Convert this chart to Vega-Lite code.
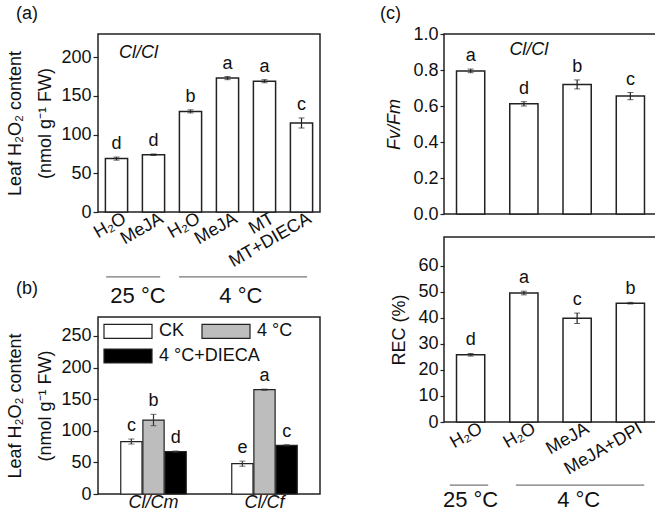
{
  "$schema": "https://vega.github.io/schema/vega-lite/v6.json",
  "padding": {"left": 6, "top": 4, "right": 2, "bottom": 0},
  "background": "white",
  "config": {
    "font": "Liberation Sans",
    "view": {"stroke": "#222", "strokeWidth": 1.5},
    "axis": {"labelFontSize": 18, "titleFontSize": 18, "labelColor": "#111", "titleColor": "#111", "titleFontWeight": "normal", "grid": false, "domain": false, "tickColor": "#222", "tickWidth": 1.2, "labelOverlap": false, "labelFlush": false},
    "title": {"fontSize": 18, "fontWeight": "normal", "anchor": "start", "frame": "group", "color": "#111"},
    "text": {"fontSize": 18, "color": "#111"}
  },
  "spacing": 58,
  "resolve": {"legend": {"fill": "independent", "color": "independent"}},
  "hconcat": [
    {
      "spacing": 8,
      "bounds": "flush",
      "resolve": {"legend": {"fill": "independent", "color": "independent"}},
      "vconcat": [
        {
          "title": {"text": "(a)", "dx": -82, "offset": 11},
          "width": 222,
          "height": 178,
          "data": {"values": [
            {"cat": "H₂O|25", "value": 69, "lo": 67, "hi": 71, "letter": "d"},
            {"cat": "MeJA|25", "value": 74, "lo": 73, "hi": 75, "letter": "d"},
            {"cat": "H₂O|4", "value": 130, "lo": 128, "hi": 132, "letter": "b"},
            {"cat": "MeJA|4", "value": 173, "lo": 171, "hi": 175, "letter": "a"},
            {"cat": "MT|4", "value": 169, "lo": 167, "hi": 171, "letter": "a"},
            {"cat": "MT+DIECA|4", "value": 115, "lo": 108.5, "hi": 121.5, "letter": "c"}
          ]},
          "encoding": {
            "x": {"field": "cat", "type": "nominal", "sort": null, "scale": {"paddingInner": 0.4, "paddingOuter": 0.2},
              "axis": {"title": null, "labelExpr": "split(datum.value,'|')[0]", "labelAngle": -30, "labelAlign": "right", "labelBaseline": "top", "tickSize": -5, "labelPadding": 2, "labelOffset": 4, "labelOverlap": false}}
          },
          "layer": [
            {"mark": {"type": "bar", "fill": "white", "stroke": "#222", "strokeWidth": 1.5},
             "encoding": {"y": {"field": "value", "type": "quantitative", "title": ["Leaf H₂O₂ content", "(nmol g⁻¹ FW)"], "scale": {"domain": [0, 230], "nice": false},
               "axis": {"values": [0, 50, 100, 150, 200], "tickCount": 20, "titlePadding": 6, "titleLineHeight": 30, "labelOverlap": false}}}},
            {"mark": {"type": "errorbar", "ticks": {"size": 6, "color": "#222"}, "rule": {"strokeWidth": 1.2}, "color": "#222"},
             "encoding": {"y": {"field": "lo", "type": "quantitative", "title": ["Leaf H₂O₂ content", "(nmol g⁻¹ FW)"]}, "y2": {"field": "hi"}}},
            {"mark": {"type": "text", "dy": -4, "baseline": "bottom"},
             "encoding": {"y": {"field": "hi", "type": "quantitative", "title": ["Leaf H₂O₂ content", "(nmol g⁻¹ FW)"]}, "text": {"field": "letter"}}},
            {"data": {"values": [{"label": "Cl/Cl"}]},
             "mark": {"type": "text", "fontStyle": "italic", "align": "center", "baseline": "middle", "dx": 22},
             "encoding": {"x": {"datum": "H₂O|25"}, "y": {"datum": 205}, "text": {"field": "label"}}}
          ]
        },
        {
          "width": 222,
          "height": 89,
          "view": {"stroke": null},
          "data": {"values": [
            {"group": "25 °C", "start": 0.22, "end": 1.68, "mid": 1.08},
            {"group": "4 °C", "start": 2.19, "end": 5.65, "mid": 3.86}
          ]},
          "layer": [
            {"mark": {"type": "rule", "color": "#777", "strokeWidth": 1.2},
             "encoding": {"x": {"field": "start", "type": "quantitative", "scale": {"domain": [0, 6], "nice": false, "zero": false}, "axis": null},
               "x2": {"field": "end"},
               "y": {"datum": 0.36, "type": "quantitative", "scale": {"domain": [0, 1], "nice": false}, "axis": null}}},
            {"mark": {"type": "text", "fontSize": 22, "baseline": "alphabetic"},
             "encoding": {"x": {"field": "mid", "type": "quantitative"}, "y": {"datum": 0.067, "type": "quantitative"}, "text": {"field": "group"}}}
          ]
        },
        {
          "title": {"text": "(b)", "dx": -82, "offset": 8},
          "width": 222,
          "height": 177,
          "data": {"values": [
            {"genotype": "Cl/Cm", "treat": "CK", "value": 83, "lo": 79, "hi": 87, "letter": "c"},
            {"genotype": "Cl/Cm", "treat": "4 °C", "value": 117, "lo": 108, "hi": 126, "letter": "b"},
            {"genotype": "Cl/Cm", "treat": "4 °C+DIECA", "value": 67, "lo": 66, "hi": 68, "letter": "d"},
            {"genotype": "Cl/Cf", "treat": "CK", "value": 48, "lo": 44, "hi": 52, "letter": "e"},
            {"genotype": "Cl/Cf", "treat": "4 °C", "value": 165, "lo": 164, "hi": 166, "letter": "a"},
            {"genotype": "Cl/Cf", "treat": "4 °C+DIECA", "value": 77, "lo": 76, "hi": 78, "letter": "c"}
          ]},
          "encoding": {
            "x": {"field": "genotype", "type": "nominal", "sort": ["Cl/Cm", "Cl/Cf"], "scale": {"paddingInner": 0.41, "paddingOuter": 0.205},
              "axis": {"title": null, "labelAngle": 0, "labelFontStyle": "italic", "tickSize": -5, "labelPadding": 4}},
            "xOffset": {"field": "treat", "type": "nominal", "scale": {"domain": ["CK", "4 °C", "4 °C+DIECA"], "paddingInner": 0.04}}
          },
          "layer": [
            {"transform": [{"filter": "datum.treat !== '4 °C+DIECA'"}],
             "mark": {"type": "bar", "stroke": "#222", "strokeWidth": 1.2},
             "encoding": {
               "y": {"field": "value", "type": "quantitative", "title": ["Leaf H₂O₂ content", "(nmol g⁻¹ FW)"], "scale": {"domain": [0, 280], "nice": false},
                 "axis": {"values": [0, 50, 100, 150, 200, 250], "tickCount": 20, "titlePadding": 6, "titleLineHeight": 30, "labelOverlap": false}},
               "fill": {"field": "treat", "type": "nominal",
                 "scale": {"domain": ["CK", "4 °C"], "range": ["white", "#bdbdbd"]},
                 "legend": {"title": null, "orient": "none", "legendX": 5, "legendY": -11, "direction": "horizontal", "columnPadding": 14,
                   "symbolType": "M-1,-0.29H1V0.29H-1Z", "symbolSize": 2304, "symbolStrokeColor": "#222", "symbolStrokeWidth": 1.2,
                   "labelFontSize": 18, "labelOffset": 6, "padding": 0, "labelColor": "#111"}}
             }},
            {"transform": [{"filter": "datum.treat === '4 °C+DIECA'"}],
             "mark": {"type": "bar", "stroke": "#222", "strokeWidth": 1.2},
             "encoding": {
               "y": {"field": "value", "type": "quantitative", "title": ["Leaf H₂O₂ content", "(nmol g⁻¹ FW)"]},
               "color": {"field": "treat", "type": "nominal",
                 "scale": {"domain": ["4 °C+DIECA"], "range": ["black"]},
                 "legend": {"title": null, "orient": "none", "legendX": 5, "legendY": 14, "direction": "horizontal",
                   "symbolType": "M-1,-0.29H1V0.29H-1Z", "symbolSize": 2304, "symbolStrokeColor": "#222", "symbolStrokeWidth": 1.2, "symbolFillColor": "black",
                   "labelFontSize": 18, "labelOffset": 6, "padding": 0, "labelColor": "#111"}}
             }},
            {"mark": {"type": "errorbar", "ticks": {"size": 6, "color": "#333"}, "rule": {"strokeWidth": 1.2}, "color": "#333"},
             "encoding": {"y": {"field": "lo", "type": "quantitative", "title": ["Leaf H₂O₂ content", "(nmol g⁻¹ FW)"]}, "y2": {"field": "hi"}}},
            {"mark": {"type": "text", "dy": -4, "baseline": "bottom"},
             "encoding": {"y": {"field": "hi", "type": "quantitative", "title": ["Leaf H₂O₂ content", "(nmol g⁻¹ FW)"]}, "text": {"field": "letter"}}}
          ]
        }
      ]
    },
    {
      "spacing": 23,
      "bounds": "flush",
      "vconcat": [
        {
          "title": {"text": "(c)", "dx": -64, "offset": 2},
          "width": 213,
          "height": 180,
          "data": {"values": [
            {"cat": "H₂O|25", "value": 0.795, "lo": 0.785, "hi": 0.805, "letter": "a"},
            {"cat": "H₂O|4", "value": 0.612, "lo": 0.6, "hi": 0.624, "letter": "d"},
            {"cat": "MeJA|4", "value": 0.72, "lo": 0.695, "hi": 0.745, "letter": "b"},
            {"cat": "MeJA+DPI|4", "value": 0.655, "lo": 0.635, "hi": 0.675, "letter": "c"}
          ]},
          "encoding": {
            "x": {"field": "cat", "type": "nominal", "sort": null, "scale": {"paddingInner": 0.47, "paddingOuter": 0.235},
              "axis": {"title": null, "labels": false, "tickSize": -5}}
          },
          "layer": [
            {"mark": {"type": "bar", "fill": "white", "stroke": "#222", "strokeWidth": 1.5},
             "encoding": {"y": {"field": "value", "type": "quantitative", "title": "Fv/Fm", "scale": {"domain": [0, 1], "nice": false},
               "axis": {"values": [0, 0.2, 0.4, 0.6, 0.8, 1], "tickCount": 20, "format": ".1f", "titleFontStyle": "italic", "tickSize": 4, "labelPadding": 2, "titlePadding": 9, "labelOverlap": false}}}},
            {"mark": {"type": "errorbar", "ticks": {"size": 6, "color": "#222"}, "rule": {"strokeWidth": 1.2}, "color": "#222"},
             "encoding": {"y": {"field": "lo", "type": "quantitative", "title": "Fv/Fm"}, "y2": {"field": "hi"}}},
            {"mark": {"type": "text", "dy": -4, "baseline": "bottom"},
             "encoding": {"y": {"field": "hi", "type": "quantitative", "title": "Fv/Fm"}, "text": {"field": "letter"}}},
            {"data": {"values": [{"label": "Cl/Cl"}]},
             "mark": {"type": "text", "fontStyle": "italic", "align": "center", "baseline": "middle", "dx": 5},
             "encoding": {"x": {"datum": "H₂O|4"}, "y": {"datum": 0.91}, "text": {"field": "label"}}}
          ]
        },
        {
          "width": 213,
          "height": 185,
          "data": {"values": [
            {"cat": "H₂O|25", "value": 25.8, "lo": 25.3, "hi": 26.3, "letter": "d"},
            {"cat": "H₂O|4", "value": 49.5, "lo": 48.8, "hi": 50.2, "letter": "a"},
            {"cat": "MeJA|4", "value": 39.8, "lo": 37.8, "hi": 41.8, "letter": "c"},
            {"cat": "MeJA+DPI|4", "value": 45.6, "lo": 45.3, "hi": 45.9, "letter": "b"}
          ]},
          "encoding": {
            "x": {"field": "cat", "type": "nominal", "sort": null, "scale": {"paddingInner": 0.47, "paddingOuter": 0.235},
              "axis": {"title": null, "labelExpr": "split(datum.value,'|')[0]", "labelAngle": -30, "labelAlign": "right", "labelBaseline": "top", "tickSize": -5, "labelPadding": 2, "labelOffset": 6, "labelOverlap": false}}
          },
          "layer": [
            {"mark": {"type": "bar", "fill": "white", "stroke": "#222", "strokeWidth": 1.5},
             "encoding": {"y": {"field": "value", "type": "quantitative", "title": "REC (%)", "scale": {"domain": [0, 71], "nice": false},
               "axis": {"values": [0, 10, 20, 30, 40, 50, 60], "tickCount": 20, "tickSize": 4, "labelPadding": 2, "titlePadding": 9, "labelOverlap": false}}}},
            {"mark": {"type": "errorbar", "ticks": {"size": 6, "color": "#222"}, "rule": {"strokeWidth": 1.2}, "color": "#222"},
             "encoding": {"y": {"field": "lo", "type": "quantitative", "title": "REC (%)"}, "y2": {"field": "hi"}}},
            {"mark": {"type": "text", "dy": -4, "baseline": "bottom"},
             "encoding": {"y": {"field": "hi", "type": "quantitative", "title": "REC (%)"}, "text": {"field": "letter"}}}
          ]
        },
        {
          "width": 213,
          "height": 68,
          "view": {"stroke": null},
          "data": {"values": [
            {"group": "25 °C", "start": 0.11, "end": 0.83, "mid": 0.5},
            {"group": "4 °C", "start": 1.35, "end": 3.76, "mid": 2.53}
          ]},
          "layer": [
            {"mark": {"type": "rule", "color": "#777", "strokeWidth": 1.2},
             "encoding": {"x": {"field": "start", "type": "quantitative", "scale": {"domain": [0, 4], "nice": false, "zero": false}, "axis": null},
               "x2": {"field": "end"},
               "y": {"datum": 0.41, "type": "quantitative", "scale": {"domain": [0, 1], "nice": false}, "axis": null}}},
            {"mark": {"type": "text", "fontSize": 22, "baseline": "alphabetic"},
             "encoding": {"x": {"field": "mid", "type": "quantitative"}, "y": {"datum": 0.088, "type": "quantitative"}, "text": {"field": "group"}}}
          ]
        }
      ]
    }
  ]
}
